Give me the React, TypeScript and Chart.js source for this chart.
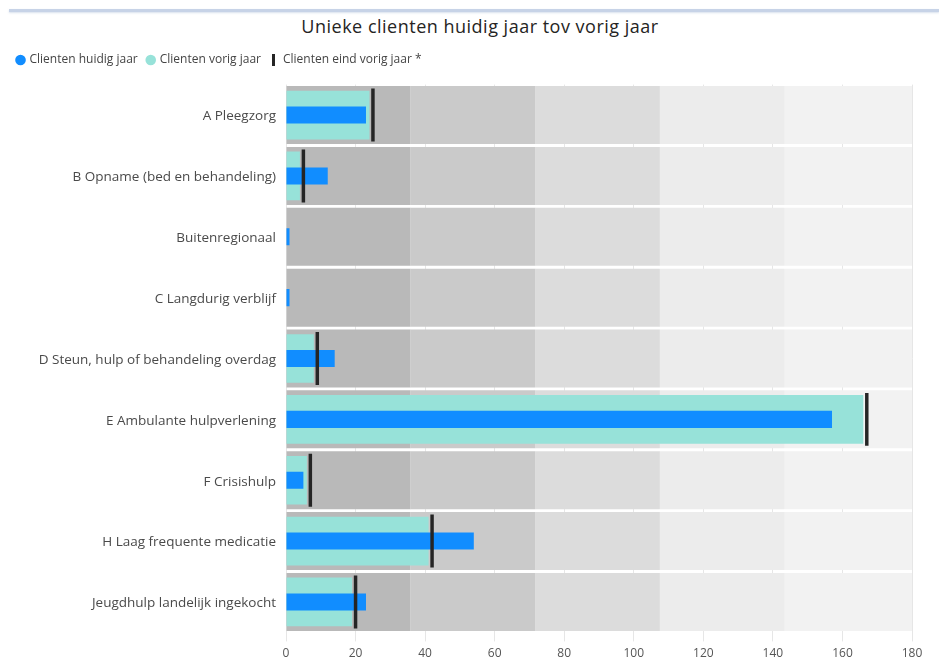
import React, { useEffect, useRef } from "react";
import { Chart, registerables } from "chart.js";

Chart.register(...registerables);

const TITLE = "Unieke clienten huidig jaar tov vorig jaar";

const CATEGORIES = [
  "A Pleegzorg",
  "B Opname (bed en behandeling)",
  "Buitenregionaal",
  "C Langdurig verblijf",
  "D Steun, hulp of behandeling overdag",
  "E Ambulante hulpverlening",
  "F Crisishulp",
  "H Laag frequente medicatie",
  "Jeugdhulp landelijk ingekocht",
];

const SERIES_NAMES = [
  "Clienten huidig jaar",
  "Clienten vorig jaar",
  "Clienten eind vorig jaar *",
];

const CURRENT_YEAR = [23, 12, 1, 1, 14, 157, 5, 54, 23];
const PREVIOUS_YEAR = [24, 4, 0, 0, 8, 166, 6, 41, 19];
const END_PREVIOUS_YEAR: (number | null)[] = [25, 5, null, null, 9, 167, 7, 42, 20];

const BAND_EDGES = [0, 35.8, 71.7, 107.5, 143.4, 180];
const X_MIN = 0;
const X_MAX = 180;
const X_STEP = 20;

const BLUE = "#118DFF";
const TEAL = "#97E2D9";
const MARKER = "#252525";
const BAND_COLORS = ["#b9b9b9", "#cacaca", "#dcdcdc", "#ececec", "#f2f2f2"];
const FONT = "'Segoe UI', 'Open Sans', sans-serif";

export default function App() {
  const canvasRef = useRef<HTMLCanvasElement | null>(null);

  useEffect(() => {
    const canvas = canvasRef.current;
    if (!canvas) return;

    const markerIcon = document.createElement("canvas");
    markerIcon.width = 3;
    markerIcon.height = 12;
    const mctx = markerIcon.getContext("2d");
    if (mctx) {
      mctx.fillStyle = MARKER;
      mctx.fillRect(0, 0, 3, 12);
    }

    const bandDatasets = BAND_COLORS.map((color, i) => ({
      label: "band" + i,
      data: CATEGORIES.map(() => [BAND_EDGES[i], BAND_EDGES[i + 1]]),
      backgroundColor: color,
      borderWidth: 0,
      grouped: false,
      barPercentage: 1,
      categoryPercentage: 0.953,
      order: 3,
    }));

    const legendMargin = {
      id: "legendMargin",
      beforeInit(chart: any) {
        if (!chart.legend) return;
        const origFit = chart.legend.fit;
        chart.legend.fit = function fit() {
          origFit.bind(chart.legend)();
          this.height += 8.6;
        };
      },
    };

    const chart = new Chart(canvas, {
      type: "bar",
      data: {
        labels: CATEGORIES,
        datasets: [
          {
            label: SERIES_NAMES[0],
            data: CURRENT_YEAR,
            backgroundColor: BLUE,
            borderWidth: 0,
            grouped: false,
            barPercentage: 1,
            categoryPercentage: 0.28,
            order: 1,
          },
          {
            label: SERIES_NAMES[1],
            data: PREVIOUS_YEAR,
            backgroundColor: TEAL,
            borderWidth: 0,
            grouped: false,
            barPercentage: 1,
            categoryPercentage: 0.8,
            order: 2,
          },
          {
            label: SERIES_NAMES[2],
            data: END_PREVIOUS_YEAR.map((v) => (v == null ? null : [v - 0.5, v + 0.5])),
            backgroundColor: MARKER,
            borderWidth: 0,
            grouped: false,
            barPercentage: 1,
            categoryPercentage: 0.87,
            order: 0,
          },
          ...bandDatasets,
        ] as any,
      },
      options: {
        indexAxis: "y",
        responsive: false,
        animation: false,
        devicePixelRatio: 1,
        layout: { padding: { left: 7.5, right: 27, top: 44, bottom: 0 } },
        plugins: {
          title: { display: false },
          tooltip: { enabled: false },
          legend: {
            display: true,
            position: "top",
            align: "start",
            labels: {
              usePointStyle: true,
              boxWidth: 6,
              boxHeight: 7.5,
              padding: 10,
              color: "#444444",
              font: { family: FONT, size: 12 },
              generateLabels: () => [
                {
                  text: SERIES_NAMES[0],
                  fillStyle: BLUE,
                  strokeStyle: BLUE,
                  lineWidth: 0,
                  pointStyle: "circle",
                  hidden: false,
                  datasetIndex: 0,
                  fontColor: "#444444",
                },
                {
                  text: SERIES_NAMES[1],
                  fillStyle: TEAL,
                  strokeStyle: TEAL,
                  lineWidth: 0,
                  pointStyle: "circle",
                  hidden: false,
                  datasetIndex: 1,
                  fontColor: "#444444",
                },
                {
                  text: SERIES_NAMES[2],
                  fillStyle: MARKER,
                  strokeStyle: MARKER,
                  lineWidth: 0,
                  pointStyle: markerIcon,
                  hidden: false,
                  datasetIndex: 2,
                  fontColor: "#444444",
                },
              ],
            },
          },
        },
        scales: {
          x: {
            type: "linear",
            position: "bottom",
            min: X_MIN,
            max: X_MAX,
            ticks: {
              stepSize: X_STEP,
              padding: 5,
              color: "#555555",
              font: { family: FONT, size: 12 },
            },
            grid: {
              display: true,
              drawOnChartArea: true,
              drawTicks: true,
              tickLength: 9,
              color: "#e6e6e6",
            },
            border: { display: false },
            afterFit: (scale: any) => {
              scale.height = 30.6;
            },
          },
          y: {
            type: "category",
            position: "left",
            offset: true,
            ticks: {
              padding: 10,
              labelOffset: 1.5,
              color: "#4a4a4a",
              font: { family: FONT, size: 13.5 },
            },
            grid: { display: false, drawTicks: false },
            border: { display: false },
            afterFit: (scale: any) => {
              scale.width = 286 - 7.5;
            },
          },
        },
      } as any,
      plugins: [legendMargin],
    });

    return () => {
      chart.destroy();
    };
  }, []);

  return (
    <div
      style={{
        position: "fixed",
        left: 0,
        top: 0,
        width: 939,
        height: 663,
        background: "#ffffff",
        overflow: "hidden",
      }}
    >
      <div
        style={{
          position: "absolute",
          left: 9,
          top: 9,
          width: 930,
          height: 3,
          background: "#c7d3e7",
          boxShadow: "0 1px 2px rgba(180,195,220,0.5)",
        }}
      />
      <div
        style={{
          position: "absolute",
          left: 0,
          top: 14,
          width: 960,
          height: 24,
          lineHeight: "24px",
          textAlign: "center",
          fontFamily: "'Open Sans', sans-serif",
          fontSize: 18,
          letterSpacing: "0.5px",
          color: "#252423",
          whiteSpace: "nowrap",
        }}
      >
        {TITLE}
      </div>
      <canvas
        ref={canvasRef}
        width={939}
        height={663}
        style={{ position: "absolute", left: 0, top: 0, width: 939, height: 663 }}
      />
    </div>
  );
}
